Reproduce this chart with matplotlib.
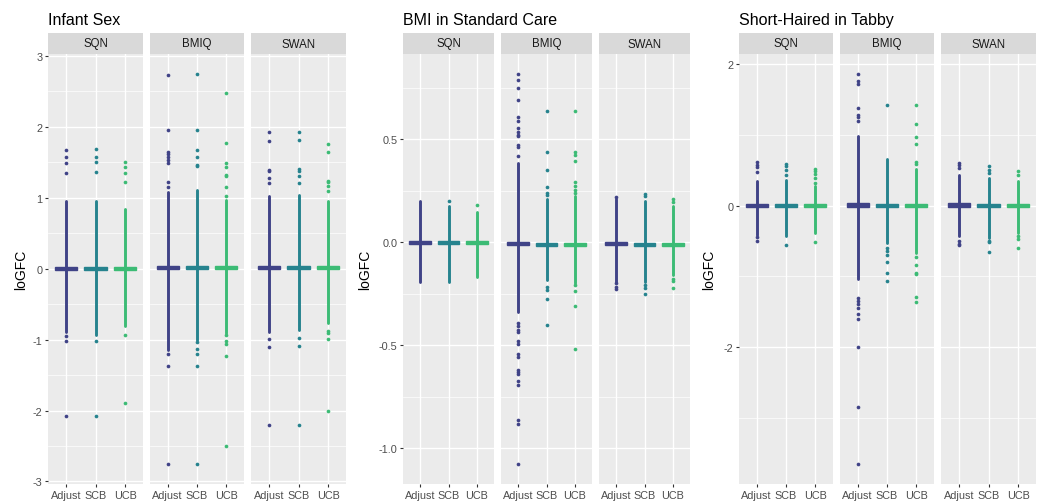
"""Boxplots of logFC per normalisation method, three contrasts side by side."""
import matplotlib
matplotlib.use("Agg")
import matplotlib.pyplot as plt  # noqa: E402
from matplotlib.patches import Rectangle  # noqa: E402

plt.rcParams["font.family"] = ["Liberation Sans", "DejaVu Sans"]
plt.rcParams["axes.unicode_minus"] = False

TITLES = ["Infant Sex", "BMI in Standard Care", "Short-Haired in Tabby"]
METHODS = ["SQN", "BMIQ", "SWAN"]
CATS = ["Adjust", "SCB", "UCB"]
COLORS = ["#404387", "#26838E", "#3CBB75"]

# --- Infant Sex: rows = method, cols = Adjust/SCB/UCB
sex_median = [[0.0, 0.0, 0.0], [0.02, 0.02, 0.02], [0.02, 0.02, 0.02]]
sex_half_iqr = 0.02
sex_dense_hi = [[0.95, 0.95, 0.845], [1.08, 1.11, 0.97], [1.03, 1.04, 0.95]]
sex_dense_lo = [[-0.90, -0.93, -0.81], [-1.14, -1.0, -0.91], [-0.90, -0.86, -0.77]]
sex_fliers = [
    [[1.67, 1.57, 1.49, 1.35, -0.95, -1.02, -2.08],
     [1.68, 1.58, 1.50, 1.36, -1.02, -2.08],
     [1.50, 1.43, 1.35, 1.22, -0.93, -1.89]],
    [[2.73, 1.95, 1.65, 1.62, 1.57, 1.53, 1.49, 1.22, 1.15, -1.20, -1.37, -2.76],
     [2.75, 1.95, 1.67, 1.58, 1.46, 1.44, -1.04, -1.13, -1.20, -1.37, -2.76],
     [2.47, 1.77, 1.49, 1.43, 1.32, 1.30, 1.15, 1.03, -0.94, -1.02, -1.06, -1.23, -2.50]],
    [[1.92, 1.80, 1.39, 1.37, 1.28, 1.21, -0.99, -1.10, -2.21],
     [1.93, 1.82, 1.40, 1.37, 1.30, 1.21, -0.98, -1.09, -2.21],
     [1.75, 1.64, 1.24, 1.22, 1.16, 1.09, -0.88, -0.91, -0.99, -2.00]],
]
sex_ticks = [-3, -2, -1, 0, 1, 2, 3]
sex_ticklabels = ["-3", "-2", "-1", "0", "1", "2", "3"]

# --- BMI in Standard Care
bmi_median = [[0.0, 0.0, 0.0], [-0.005, -0.01, -0.01], [-0.005, -0.01, -0.01]]
bmi_half_iqr = 0.009
bmi_dense_hi = [[0.20, 0.176, 0.15], [0.387, 0.21, 0.225], [0.21, 0.20, 0.176]]
bmi_dense_lo = [[-0.19, -0.19, -0.17], [-0.34, -0.18, -0.196], [-0.19, -0.19, -0.16]]
bmi_fliers = [
    [[], [0.20], [0.18]],
    [[0.82, 0.79, 0.75, 0.69, 0.61, 0.59, 0.557, 0.537, 0.524, 0.516, 0.472, 0.463,
      0.419, -0.39, -0.406, -0.427, -0.435, -0.48, -0.495, -0.544, -0.555, -0.617,
      -0.63, -0.64, -0.673, -0.69, -0.86, -0.88, -1.078],
     [0.64, 0.44, 0.35, 0.27, 0.238, 0.228, -0.215, -0.23, -0.273, -0.40],
     [0.64, 0.44, 0.424, 0.395, 0.293, 0.273, 0.257, 0.238, -0.209, -0.236, -0.309, -0.519]],
    [[0.222, -0.196, -0.215, -0.228],
     [0.236, 0.225, -0.209, -0.22, -0.252],
     [0.212, 0.195, -0.176, -0.188, -0.22]],
]
bmi_ticks = [-1.0, -0.5, 0.0, 0.5]
bmi_ticklabels = ["-1.0", "-0.5", "0.0", "0.5"]

# --- Short-Haired in Tabby
tabby_median = [[0.0, 0.0, 0.0], [0.01, 0.0, 0.0], [0.01, 0.0, 0.0]]
tabby_half_iqr = 0.025
tabby_dense_hi = [[0.35, 0.366, 0.27], [0.976, 0.65, 0.51], [0.437, 0.39, 0.34]]
tabby_dense_lo = [[-0.41, -0.43, -0.385], [-1.04, -0.53, -0.67], [-0.43, -0.455, -0.385]]
tabby_fliers = [
    [[0.615, 0.577, 0.54, 0.475, -0.44, -0.50],
     [0.59, 0.55, 0.507, 0.437, -0.56],
     [0.517, 0.483, 0.446, 0.39, 0.32, -0.517]],
    [[1.86, 1.75, 1.71, 1.376, 1.28, 1.25, 1.19, -1.31, -1.35, -1.39, -1.44, -1.53,
      -1.6, -2.0, -2.84, -3.65],
     [1.42, -0.6, -0.64, -0.70, -0.79, -0.95, -1.06],
     [1.42, 1.155, 0.96, 0.87, 0.62, 0.58, -0.72, -0.84, -0.95, -0.97, -1.29, -1.36]],
    [[0.60, 0.57, 0.53, -0.50, -0.54, -0.56],
     [0.55, 0.507, 0.46, -0.5, -0.52, -0.66],
     [0.48, 0.437, -0.43, -0.47, -0.6]],
]
tabby_ticks = [-2, 0, 2]
tabby_ticklabels = ["-2", "0", "2"]

GROUPS = [
    (sex_median, sex_half_iqr, sex_dense_lo, sex_dense_hi, sex_fliers, sex_ticks, sex_ticklabels),
    (bmi_median, bmi_half_iqr, bmi_dense_lo, bmi_dense_hi, bmi_fliers, bmi_ticks, bmi_ticklabels),
    (tabby_median, tabby_half_iqr, tabby_dense_lo, tabby_dense_hi, tabby_fliers,
     tabby_ticks, tabby_ticklabels),
]

W, H = 1042, 502
PANEL_X = [[(48, 143), (150, 244), (251, 346)],
           [(403, 494), (501, 592), (599, 690)],
           [(739, 833), (840, 934), (941, 1036)]]
TITLE_X = [48, 403, 739]
YLAB_X = [21, 365, 709]
STRIP_TOP, PANEL_TOP, PANEL_BOT = 34, 55, 485


def rect(x0, x1, y0, y1):
    return [x0 / W, 1 - y1 / H, (x1 - x0) / W, (y1 - y0) / H]


fig = plt.figure(figsize=(W / 100, H / 100), dpi=100)

for g, (med, hiqr, dlo, dhi, fl, ticks, tlabels) in enumerate(GROUPS):
    vals = [v for row in dlo for v in row] + [v for row in dhi for v in row]
    vals += [v for row in fl for cell in row for v in cell]
    lo, hi = min(vals), max(vals)
    pad = 0.05 * (hi - lo)
    ylim = (lo - pad, hi + pad)
    step = ticks[1] - ticks[0]
    minor = [t + step / 2 for t in [ticks[0] - step] + ticks]
    minor = [m for m in minor if ylim[0] <= m <= ylim[1]]

    for m, (x0, x1) in enumerate(PANEL_X[g]):
        ax = fig.add_axes(rect(x0, x1, PANEL_TOP, PANEL_BOT))
        ax.set_facecolor("#EBEBEB")
        for s in ax.spines.values():
            s.set_visible(False)
        ax.set_xlim(0.4, 3.6)
        ax.set_ylim(*ylim)
        ax.set_xticks([1, 2, 3])
        ax.set_xticklabels(CATS)
        ax.set_yticks(ticks)
        ax.set_yticklabels(tlabels)
        ax.set_yticks(minor, minor=True)
        ax.grid(which="major", color="white", lw=1.0)
        ax.grid(which="minor", axis="y", color="white", lw=0.5)
        ax.set_axisbelow(True)
        ax.tick_params(axis="both", which="major", length=2.5, width=0.8, color="#333333",
                       labelsize=7.8, labelcolor="#4D4D4D", pad=1.5)
        ax.tick_params(which="minor", length=0)
        if m > 0:
            ax.tick_params(axis="y", left=False, labelleft=False)

        for i in range(3):
            x = i + 1
            c = COLORS[i]
            ax.plot([x, x], [dlo[m][i], dhi[m][i]], color=c, lw=2.1,
                    solid_capstyle="round", zorder=2)
            ax.add_patch(Rectangle((x - 0.375, med[m][i] - hiqr), 0.75, 2 * hiqr,
                                   facecolor=c, edgecolor=c, lw=1.0, zorder=3))
            f = fl[m][i]
            ax.scatter([x] * len(f), f, s=7, color=c, lw=0, zorder=3)

        sax = fig.add_axes(rect(x0, x1, STRIP_TOP, PANEL_TOP))
        sax.set_facecolor("#D9D9D9")
        sax.set_xticks([])
        sax.set_yticks([])
        for s in sax.spines.values():
            s.set_visible(False)
        sax.text(0.5, 0.5, METHODS[m], ha="center", va="center", fontsize=8.3,
                 color="#1A1A1A", transform=sax.transAxes)

    fig.text(TITLE_X[g] / W, 1 - 25 / H, TITLES[g], ha="left", va="baseline",
             fontsize=11.5, color="black")
    fig.text(YLAB_X[g] / W, 1 - ((PANEL_TOP + PANEL_BOT) / 2) / H, "loGFC",
             rotation=90, ha="center", va="center", fontsize=10, color="black")

fig.savefig("out.png", dpi=100)
